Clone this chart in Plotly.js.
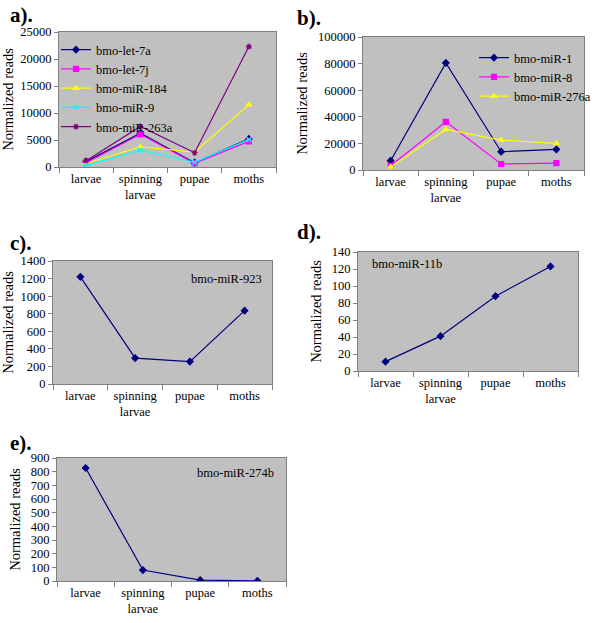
<!DOCTYPE html>
<html>
<head>
<meta charset="utf-8">
<script src="https://cdn.plot.ly/plotly-3.0.1.min.js"></script>
<style>html,body{margin:0;padding:0;background:#fff;}#chart{width:600px;height:623px;}</style>
</head>
<body>
<div id="chart"></div>
<script>
// Categories (developmental stages)
var stages = ["larvae", "spinning<br>larvae", "pupae", "moths"];

// Panel a
var letA_name = "bmo-let-7a";   var letA = [1000, 6250, 800, 5200];
var letJ_name = "bmo-let-7j";   var letJ = [800, 6050, 700, 4750];
var mir184_name = "bmo-miR-184"; var mir184 = [650, 3750, 2750, 11550];
var mir9_name = "bmo-miR-9";    var mir9 = [300, 3100, 850, 5100];
var mir263_name = "bmo-miR-263a"; var mir263 = [1150, 7500, 2650, 22300];

// Panel b
var mir1_name = "bmo-miR-1";    var mir1 = [7000, 80500, 13750, 15500];
var mir8_name = "bmo-miR-8";    var mir8 = [3200, 36200, 4500, 5200];
var mir276_name = "bmo-miR-276a"; var mir276 = [2300, 30500, 22500, 20000];

// Panel c
var mir923_name = "bmo-miR-923"; var mir923 = [1220, 295, 255, 835];
// Panel d
var mir11b_name = "bmo-miR-11b"; var mir11b = [11, 41, 88, 123];
// Panel e
var mir274_name = "bmo-miR-274b"; var mir274 = [827, 80, 7, 1];

var NAVY = "#000080", MAG = "#ff00ff", YEL = "#ffff00", CYAN = "#00ffff", PURP = "#800080";
var SERIF = "Liberation Serif";

function tr(name, y, color, symbol, xa, ya, legend, show) {
  return {
    type: "scatter", mode: "lines+markers", name: name,
    x: stages, y: y, xaxis: xa, yaxis: ya,
    legend: legend, showlegend: show,
    line: {color: color, width: 1.2},
    marker: {color: color, symbol: symbol, size: 5, line: {color: color, width: 1.2}}
  };
}

var data = [
  tr(letA_name, letA, NAVY, "diamond", "x", "y", "legend", true),
  tr(letJ_name, letJ, MAG, "square", "x", "y", "legend", true),
  tr(mir184_name, mir184, YEL, "triangle-up", "x", "y", "legend", true),
  tr(mir9_name, mir9, CYAN, "x-thin-open", "x", "y", "legend", true),
  tr(mir263_name, mir263, PURP, "asterisk-open", "x", "y", "legend", true),
  tr(mir1_name, mir1, NAVY, "diamond", "x2", "y2", "legend2", true),
  tr(mir8_name, mir8, MAG, "square", "x2", "y2", "legend2", true),
  tr(mir276_name, mir276, YEL, "triangle-up", "x2", "y2", "legend2", true),
  tr(mir923_name, mir923, NAVY, "diamond", "x3", "y3", "legend", false),
  tr(mir11b_name, mir11b, NAVY, "diamond", "x4", "y4", "legend", false),
  tr(mir274_name, mir274, NAVY, "diamond", "x5", "y5", "legend", false)
];

function px(x) { return x / 600; }
function py(y) { return (623 - y) / 623; }

function xax(l, r, anchor) {
  return {
    domain: [px(l), px(r)], anchor: anchor, type: "category",
    range: [-0.5, 3.5], showgrid: false, zeroline: false,
    showline: true, linecolor: "#808080", linewidth: 1, mirror: true,
    ticks: "outside", tickson: "boundaries", ticklen: 5, tickcolor: "#808080",
    tickfont: {family: SERIF, size: 12.5, color: "#000"}, fixedrange: true
  };
}
function yax(t, b, anchor, max, dtick) {
  return {
    domain: [py(b), py(t)], anchor: anchor, range: [0, max], dtick: dtick,
    tickformat: "d",
    showgrid: false, zeroline: false,
    showline: true, linecolor: "#808080", linewidth: 1, mirror: true,
    ticks: "outside", ticklen: 4, tickcolor: "#808080",
    tickfont: {family: SERIF, size: 12.5, color: "#000"},
    title: {text: "Normalized reads", font: {family: SERIF, size: 14.5, color: "#000"}, standoff: 6},
    fixedrange: true
  };
}

var legFont = {family: SERIF, size: 12.5, color: "#000"};

function label(t, x, y) {
  return {text: "<b>" + t + "</b>", xref: "paper", yref: "paper", x: px(x), y: py(y),
    xanchor: "left", yanchor: "middle", showarrow: false,
    font: {family: SERIF, size: 21, color: "#000"}};
}
function note(t, x, y) {
  return {text: t, xref: "paper", yref: "paper", x: px(x), y: py(y),
    xanchor: "center", yanchor: "middle", showarrow: false,
    font: {family: SERIF, size: 12.5, color: "#000"}};
}

var layout = {
  width: 600, height: 623,
  margin: {l: 0, r: 0, t: 0, b: 0},
  paper_bgcolor: "#ffffff", plot_bgcolor: "#c0c0c0",
  xaxis: xax(59, 276, "y"),   yaxis: yax(32, 167, "x", 25000, 5000),
  xaxis2: xax(363, 584, "y2"), yaxis2: yax(37, 170, "x2", 100000, 20000),
  xaxis3: xax(53, 272, "y3"), yaxis3: yax(261, 384, "x3", 1400, 200),
  xaxis4: xax(358, 578, "y4"), yaxis4: yax(252, 371, "x4", 140, 20),
  xaxis5: xax(57, 286, "y5"), yaxis5: yax(458, 581, "x5", 900, 100),
  legend: {x: px(56), y: py(35), xanchor: "left", yanchor: "top",
    bgcolor: "rgba(0,0,0,0)", font: legFont, tracegroupgap: 0, itemwidth: 30},
  legend2: {x: px(474), y: py(43), xanchor: "left", yanchor: "top",
    bgcolor: "rgba(0,0,0,0)", font: legFont, tracegroupgap: 0, itemwidth: 30},
  annotations: [
    label("a).", 8, 15), label("b).", 295, 18), label("c).", 8, 243),
    label("d).", 295, 232), label("e).", 8, 443),
    note(mir923_name, 226, 279), note(mir11b_name, 407, 264), note(mir274_name, 235, 473)
  ]
};

Plotly.newPlot("chart", data, layout, {displayModeBar: false, staticPlot: true});
</script>
</body>
</html>
